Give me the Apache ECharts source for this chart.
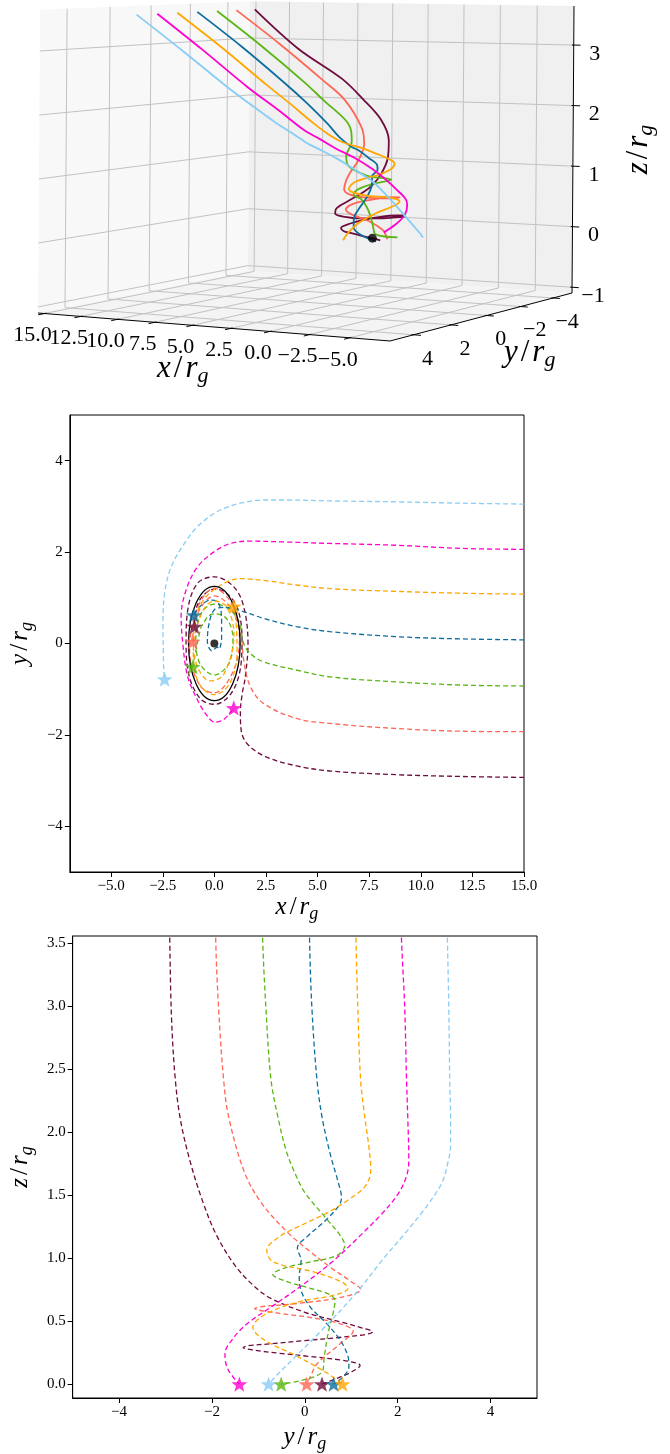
<!DOCTYPE html>
<html><head><meta charset="utf-8">
<script src="https://cdn.jsdelivr.net/npm/echarts@6/dist/echarts.min.js"></script>
<style>html,body{margin:0;padding:0;background:#fff}#c{width:670px;height:1454px}</style>
</head><body><div id="c"></div>
<script>
// ---------------- data: trajectories as [x, y, z] in units of r_g ----------------
const trajMaroon = [
 [15,-2.93,4.05],[12,-2.91,3.55],[8.8,-2.87,2.9],[5.6,-2.79,2.42],[4.0,-2.68,2.1],[2.5,-2.48,1.78],
 [1.6,-2.2,1.45],[1.3,-1.9,1.18],[1.26,-1.5,0.94],[1.35,-1.1,0.78],[1.5,-0.73,0.68],[1.63,0.0,0.57],
 [1.42,0.81,0.49],[0.94,1.24,0.445],[0.02,1.46,0.415],[-0.81,1.32,0.395],[-1.29,0.73,0.37],[-1.37,0.0,0.345],
 [-1.21,-0.73,0.32],[-0.65,-1.22,0.305],[0.02,-1.33,0.29],[0.8,-1.1,0.27],[1.26,-0.55,0.245],[1.34,0.1,0.22],
 [1.1,0.8,0.19],[0.5,1.13,0.165],[0.0,1.19,0.15],[-0.6,1.02,0.10],[-0.9,0.72,0.05],[-0.97,0.37,0.0]
];
const trajSalmon = [
 [15,-1.93,4.05],[12,-1.92,3.55],[8.8,-1.86,3.0],[5.6,-1.75,2.42],[3.97,-1.64,2.12],[2.38,-1.31,1.69],
 [1.74,-0.94,1.44],[1.42,-0.36,1.2],[1.32,0.12,1.05],[1.1,0.54,0.93],[0.7,0.97,0.82],[0.0,1.21,0.75],
 [-0.8,0.8,0.69],[-1.2,-0.16,0.64],[-0.7,-0.92,0.615],[0.0,-1.08,0.60],[0.9,-0.62,0.565],[1.22,0.1,0.53],
 [0.85,0.75,0.48],[0.0,1.04,0.42],[-0.7,0.76,0.32],[-1.0,0.26,0.16],[-1.05,0.12,0.06],[-1.05,0.04,0.0]
];
const trajGreen = [
 [15,-0.93,4.05],[12,-0.91,3.55],[8.8,-0.84,3.0],[5.6,-0.73,2.42],[3.97,-0.58,2.12],[2.38,-0.40,1.85],
 [1.74,-0.22,1.68],[1.42,0.0,1.52],[1.2,0.47,1.31],[0.7,0.76,1.18],[0.0,0.86,1.10],[-0.6,0.69,1.02],
 [-0.9,0.12,0.97],[-0.7,-0.44,0.92],[0.0,-0.69,0.87],[0.7,-0.44,0.82],[0.9,0.12,0.76],[0.6,0.54,0.71],
 [0.0,0.65,0.66],[-0.3,0.6,0.55],[-0.45,0.5,0.40],[-0.55,0.42,0.22],[-0.65,0.36,0.09],[-1.05,-0.51,0.0]
];
const trajBlue = [
 [15,0.08,4.05],[12,0.10,3.55],[8.8,0.15,3.0],[5.6,0.26,2.42],[3.97,0.37,2.12],[2.38,0.55,1.82],
 [1.26,0.72,1.6],[0.46,0.79,1.48],[0.0,0.74,1.42],[-0.25,0.45,1.3],[-0.34,0.05,1.17],[-0.12,-0.16,1.08],
 [0.15,-0.08,0.98],[0.2,-0.12,0.85],[0.28,-0.08,0.74],[0.35,0.12,0.61],[0.35,0.47,0.48],[0.3,0.76,0.35],
 [0.1,0.93,0.22],[-0.2,0.95,0.14],[-0.65,0.83,0.06],[-1.0,0.62,0.0]
];
const trajOrange = [
 [15,1.08,4.05],[12,1.10,3.55],[8.8,1.14,3.0],[5.6,1.20,2.42],[3.97,1.28,2.15],[2.38,1.38,1.88],
 [1.26,1.42,1.70],[0.4,1.30,1.57],[-0.5,0.97,1.47],[-0.92,0.54,1.37],[-1.02,-0.02,1.27],[-0.78,-0.55,1.17],
 [-0.2,-0.82,1.06],[0.45,-0.68,0.97],[0.95,0.19,0.89],[0.6,0.80,0.81],[0.0,0.93,0.76],[-0.6,0.68,0.71],
 [-1.02,-0.16,0.65],[-0.75,-0.87,0.55],[0.0,-1.12,0.45],[0.75,-0.87,0.35],[1.1,-0.16,0.22],[1.05,0.47,0.09],
 [0.94,0.81,0.0]
];
const trajMagenta = [
 [15,2.06,4.05],[12,2.08,3.55],[8.8,2.15,3.0],[5.6,2.19,2.42],[3.5,2.22,2.08],[1.74,2.24,1.78],
 [0.78,2.19,1.65],[0.0,2.01,1.51],[-0.81,1.68,1.36],[-1.37,1.17,1.17],[-1.61,0.59,0.97],[-1.53,0.0,0.80],
 [-1.29,-0.73,0.61],[-0.81,-1.24,0.48],[-0.4,-1.55,0.36],[0.02,-1.72,0.24],[0.46,-1.66,0.12],[0.94,-1.41,0.0]
];
const trajLightBlue = [
 [15,3.05,4.05],[12,3.07,3.55],[8.8,3.10,3.0],[5.6,3.12,2.43],[3.5,3.14,2.09],[2.3,3.14,1.9],
 [1.26,3.07,1.74],[0.6,2.98,1.62],[0.0,2.85,1.53],[-0.81,2.56,1.38],[-1.45,2.19,1.21],[-2.09,1.68,0.99],
 [-2.41,1.10,0.72],[-2.49,0.37,0.43],[-2.47,-0.25,0.2],[-2.45,-0.58,0.08],[-2.41,-0.78,0.0]
];
const trajectories = [trajMaroon, trajSalmon, trajGreen, trajBlue, trajOrange, trajMagenta, trajLightBlue];
const lineColors = ['#6e0b3d', '#ff6655', '#5ab614', '#0d6e9e', '#ffa600', '#ff00d0', '#88cdf6'];
const horizonRadius = 1.25;

// tick values
const xTicksXY = [-5, -2.5, 0, 2.5, 5, 7.5, 10, 12.5, 15];
const yTicksXY = [-4, -2, 0, 2, 4];
const yTicksYZ = [-4, -2, 0, 2, 4];
const zTicksYZ = [0, 0.5, 1, 1.5, 2, 2.5, 3, 3.5];
const xTicks3D = [-5, -2.5, 0, 2.5, 5, 7.5, 10, 12.5, 15];
const yTicks3D = [-4, -2, 0, 2, 4];
const zTicks3D = [-1, 0, 1, 2, 3];
const zClip3D = 3.55;

// ---------------- 3D camera (perspective box projection) ----------------
const BOX = {x:[-7.46, 15.46], y:[-5.21, 5.21], z:[-1.095, 3.645]};
const CAM = {a:-308.06, b:-227.98, c:572, d:-4.58, e:7.8, f:293, g:0.06427, h:-0.1179, p:2, q:-287};
function proj(x, y, z) {
  const u = (x - BOX.x[0]) / (BOX.x[1] - BOX.x[0]);
  const v = (y - BOX.y[0]) / (BOX.y[1] - BOX.y[0]);
  const w = (z - BOX.z[0]) / (BOX.z[1] - BOX.z[0]);
  const den = 1 + CAM.g * u + CAM.h * v;
  return [(CAM.a * u + CAM.b * v + CAM.p * w + CAM.c) / den, (CAM.d * u + CAM.e * v + CAM.q * w + CAM.f) / den];
}
const X0 = BOX.x[0], X1 = BOX.x[1], Y0 = BOX.y[0], Y1 = BOX.y[1], Z0 = BOX.z[0], Z1 = BOX.z[1];

const FONT = '"Liberation Serif", "DejaVu Serif", serif';
const minus = s => String(s).replace('-', '\u2212');

const panes3d = [
  {pts:[[X1,Y0,Z0],[X1,Y1,Z0],[X1,Y1,Z1],[X1,Y0,Z1]], fill:'#f8f8f8'},
  {pts:[[X0,Y0,Z0],[X1,Y0,Z0],[X1,Y0,Z1],[X0,Y0,Z1]], fill:'#f0f0f0'},
  {pts:[[X0,Y0,Z0],[X1,Y0,Z0],[X1,Y1,Z0],[X0,Y1,Z0]], fill:'#f4f4f4'}
];
const gridSegs = [];
yTicks3D.forEach(y => { gridSegs.push([[X1,y,Z0],[X1,y,Z1]]); gridSegs.push([[X0,y,Z0],[X1,y,Z0]]); });
zTicks3D.forEach(z => { gridSegs.push([[X1,Y0,z],[X1,Y1,z]]); gridSegs.push([[X0,Y0,z],[X1,Y0,z]]); });
xTicks3D.forEach(x => { gridSegs.push([[x,Y0,Z0],[x,Y0,Z1]]); gridSegs.push([[x,Y0,Z0],[x,Y1,Z0]]); });
const axisSegs = [
  [[X0,Y1,Z0],[X1,Y1,Z0]], [[X0,Y0,Z0],[X0,Y1,Z0]], [[X0,Y0,Z0],[X0,Y0,Z1]]
];
xTicks3D.forEach(x => axisSegs.push([[x,Y1-0.08,Z0],[x,Y1+0.28,Z0]]));
yTicks3D.forEach(y => axisSegs.push([[X0+0.12,y,Z0],[X0-0.45,y,Z0]]));
zTicks3D.forEach(z => axisSegs.push([[X0+0.12,Y0,z],[X0-0.45,Y0,z]]));

function nameRich(fs) {
  const sub = Math.round(fs*0.7);
  return {
    i:{fontFamily:FONT, fontStyle:'italic', fontSize:fs, lineHeight:fs+6, color:'#000'},
    n:{fontFamily:FONT, fontSize:fs, lineHeight:fs+6, color:'#000', padding:[0, Math.round(fs*0.1), 0, Math.round(fs*0.1)]},
    s:{fontFamily:FONT, fontStyle:'italic', fontSize:sub, lineHeight:sub, verticalAlign:'bottom', color:'#000'}
  };
}
const nameX = '{i|x}{n|/}{i|r}{s|g}', nameY = '{i|y}{n|/}{i|r}{s|g}', nameZ = '{i|z}{n|/}{i|r}{s|g}';

const labels3d = [];
xTicks3D.forEach(x => { const p = proj(x, Y1, Z0); labels3d.push({x:p[0]-12, y:p[1]+22, text:minus(x.toFixed(1)), fs:22}); });
yTicks3D.forEach(y => { const p = proj(X0, y, Z0); labels3d.push({x:p[0]+14, y:p[1]+24, text:minus(String(y)), fs:22}); });
zTicks3D.forEach(z => { const p = proj(X0, Y0, z); labels3d.push({x:p[0]+21, y:p[1]+9, text:minus(String(z)), fs:22}); });
(function(){
  const px = proj((X0+X1)/2, Y1, Z0), py = proj(X0, 0, Z0), pz = proj(X0, Y0, (Z0+Z1)/2);
  labels3d.push({x:px[0]-25, y:px[1]+42, text:nameX, fs:31, rich:true});
  labels3d.push({x:py[0]+43, y:py[1]+37, text:nameY, fs:31, rich:true});
  labels3d.push({x:pz[0]+66, y:pz[1], text:nameZ, fs:31, rich:true, rot:Math.PI/2});
})();

const STAR = 'path://M12,0 L14.94,8.09 L23.41,8.29 L16.76,13.51 L19.05,21.71 L12,16.9 L4.95,21.71 L7.24,13.51 L0.59,8.29 L9.06,8.09 Z';

const series = [];
// --- 3D panel ---
series.push({type:'custom', xAxisIndex:0, yAxisIndex:0, silent:true, z:1,
  data: panes3d.map((p,i)=>[i,0]),
  renderItem:(params, api) => { const pane = panes3d[params.dataIndex];
    return {type:'polygon', shape:{points: pane.pts.map(q => api.coord(proj(q[0],q[1],q[2])))}, style:{fill:pane.fill, stroke:null}}; }});
series.push({type:'custom', xAxisIndex:0, yAxisIndex:0, silent:true, z:2,
  data: gridSegs.map((s,i)=>[i,0]),
  renderItem:(params, api) => { const s = gridSegs[params.dataIndex];
    const a = api.coord(proj(...s[0])), b = api.coord(proj(...s[1]));
    return {type:'line', shape:{x1:a[0], y1:a[1], x2:b[0], y2:b[1]}, style:{stroke:'#c2c2c2', lineWidth:1}}; }});
series.push({type:'custom', xAxisIndex:0, yAxisIndex:0, silent:true, z:3,
  data: axisSegs.map((s,i)=>[i,0]),
  renderItem:(params, api) => { const s = axisSegs[params.dataIndex];
    const a = api.coord(proj(...s[0])), b = api.coord(proj(...s[1]));
    return {type:'line', shape:{x1:a[0], y1:a[1], x2:b[0], y2:b[1]}, style:{stroke:'#000', lineWidth:1}}; }});
series.push({type:'custom', xAxisIndex:0, yAxisIndex:0, silent:true, z:3,
  data: labels3d.map((l,i)=>[i,0]),
  renderItem:(params, api) => { const l = labels3d[params.dataIndex];
    const c = api.coord([l.x, l.y]);
    const st = {text:l.text, align:'center', verticalAlign:'middle', fill:'#000', fontFamily:FONT, fontSize:l.fs};
    if (l.rich) st.rich = nameRich(l.fs);
    return {type:'text', x:c[0], y:c[1], rotation:l.rot || 0, style:st}; }});
trajectories.forEach((t, k) => {
  series.push({type:'line', xAxisIndex:0, yAxisIndex:0, silent:true, z:4, smooth:0.35, showSymbol:false,
    data: t.filter(p => p[2] <= zClip3D).map(p => proj(p[0], p[1], p[2])),
    lineStyle:{color:lineColors[k], width:1.8}});
});
series.push({type:'scatter', xAxisIndex:0, yAxisIndex:0, silent:true, z:6, symbolSize:9,
  data:[proj(0,0,0)], itemStyle:{color:'#000'}});

// --- x-y panel ---
trajectories.forEach((t, k) => {
  series.push({type:'line', xAxisIndex:1, yAxisIndex:1, silent:true, z:3, smooth:0.35, showSymbol:false,
    data: t.map(p => [p[0], p[1]]),
    lineStyle:{color:lineColors[k], width:1.3, type:[5,3]}});
});
series.push({type:'custom', xAxisIndex:1, yAxisIndex:1, silent:true, z:4,
  data:[[0, 0, horizonRadius]],
  renderItem:(params, api) => { const c = api.coord([api.value(0), api.value(1)]);
    const s = api.size([api.value(2), api.value(2)]);
    return {type:'ellipse', shape:{cx:c[0], cy:c[1], rx:s[0], ry:s[1]}, style:{fill:null, stroke:'#000', lineWidth:1.3}}; }});
series.push({type:'scatter', xAxisIndex:1, yAxisIndex:1, silent:true, z:5, symbolSize:8,
  data:[[0,0]], itemStyle:{color:'#000'}});
series.push({type:'scatter', xAxisIndex:1, yAxisIndex:1, silent:true, z:6, symbol:STAR, symbolKeepAspect:true, symbolSize:16,
  data: trajectories.map((t,k) => ({value:[t[t.length-1][0], t[t.length-1][1]], itemStyle:{color:lineColors[k]}}))});

// --- y-z panel ---
trajectories.forEach((t, k) => {
  series.push({type:'line', xAxisIndex:2, yAxisIndex:2, silent:true, z:3, smooth:0.35, showSymbol:false,
    data: t.map(p => [p[1], p[2]]),
    lineStyle:{color:lineColors[k], width:1.3, type:[5,3]}});
});
series.push({type:'scatter', xAxisIndex:2, yAxisIndex:2, silent:true, z:6, symbol:STAR, symbolKeepAspect:true, symbolSize:16,
  data: trajectories.map((t,k) => ({value:[t[t.length-1][1], t[t.length-1][2]], itemStyle:{color:lineColors[k]}}))});

function axis2d(gridIndex, min, max, ticks, fmt, name, nameGap, rotate) {
  return {gridIndex, type:'value', min, max,
    axisLine:{show:true, onZero:false, lineStyle:{color:'#000', width:1}},
    axisTick:{show:true, length:5, customValues:ticks, lineStyle:{color:'#000'}},
    axisLabel:{customValues:ticks, formatter:fmt, fontFamily:FONT, fontSize:15, color:'#000', margin:7},
    splitLine:{show:false},
    name, nameLocation:'middle', nameGap, nameRotate: rotate ? 90 : 0,
    nameTextStyle:{rich:nameRich(25)}};
}

const option = {
  animation:false,
  backgroundColor:'#fff',
  grid:[
    {left:0, top:0, width:670, height:400, show:false},
    {left:64, top:415, width:460, height:457, show:true, borderColor:'#000', borderWidth:1, backgroundColor:'rgba(0,0,0,0)'},
    {left:65, top:936, width:472, height:469, show:true, borderColor:'#000', borderWidth:1, backgroundColor:'rgba(0,0,0,0)'}
  ],
  xAxis:[
    {gridIndex:0, type:'value', min:0, max:670, show:false},
    axis2d(1, -7, 15, xTicksXY, v => minus(v.toFixed(1)), nameX, 20, false),
    axis2d(2, -5, 5, yTicksYZ, v => minus(String(v)), nameY, 24, false)
  ],
  yAxis:[
    {gridIndex:0, type:'value', min:0, max:400, inverse:true, show:false},
    axis2d(1, -5, 5, yTicksXY, v => minus(String(v)), nameY, 30, true),
    axis2d(2, -0.11, 3.555, zTicksYZ, v => minus(v.toFixed(1)), nameZ, 34, true)
  ],
  series
};
const chart = echarts.init(document.getElementById('c'), null, {renderer:'canvas', width:670, height:1454});
chart.setOption(option);
</script>
</body></html>
